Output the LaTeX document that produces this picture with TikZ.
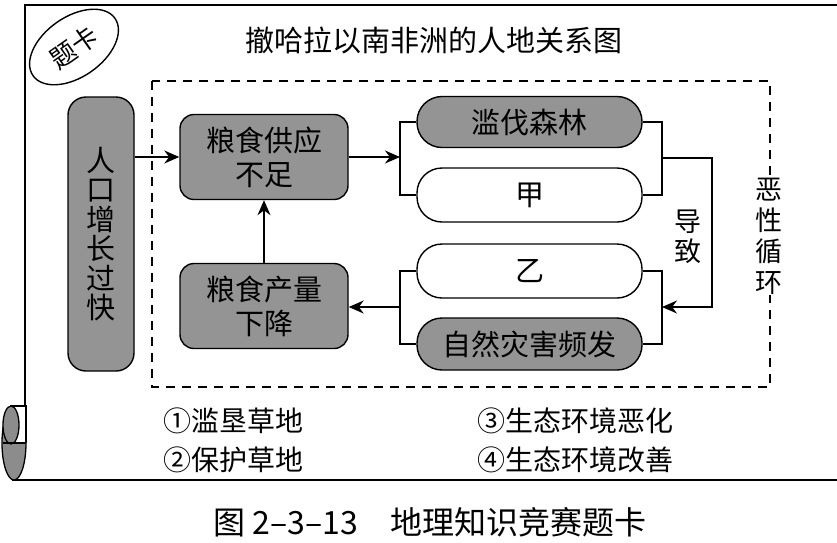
\documentclass[tikz,border=0pt]{standalone}
\usepackage{fontspec}
\setmainfont{Noto Sans CJK SC}
\usetikzlibrary{arrows.meta,shapes.geometric}
\tikzset{
  graybox/.style={draw, line width=1.4pt, fill=black!42, rounded corners=14pt,
    minimum width=168pt, minimum height=85pt, align=center,
    font=\fontsize{29}{34}\selectfont, inner sep=0pt},
  pill/.style={draw, line width=1.4pt, rounded corners=25pt,
    minimum width=225pt, minimum height=52pt, inner sep=0pt,
    font=\fontsize{29}{34}\selectfont},
  graypill/.style={pill, fill=black!42},
  whitepill/.style={pill, fill=white},
  link/.style={line width=1.3pt},
  arr/.style={line width=1.3pt, -{Stealth[length=15pt,width=13pt]}},
  vtext/.style={align=center, inner sep=1pt},
  legend/.style={anchor=west, inner sep=0pt, font=\fontsize{28}{30}\selectfont},
}
\begin{document}
\begin{tikzpicture}[x=1pt,y=-1pt]
\useasboundingbox (0,0) rectangle (837,542);

% card border
\draw[line width=2pt] (837,5) -- (25,5) -- (25,406);
\draw[line width=2pt] (12,480) -- (837,480);
% scroll
\draw[line width=1.3pt, fill=black!45] (14,443) ellipse [x radius=12, y radius=37];
\fill[white] (12,406) rectangle (26,443);
\draw[line width=1.3pt] (10,406) -- (26,406) -- (26,443);
\draw[line width=1.3pt, fill=black!45] (11,425) ellipse [x radius=8, y radius=19];
\draw[line width=1.3pt] (3,443) -- (26,443);

% badge
\draw[line width=1.4pt, rotate around={35:(74,47)}] (74,47) ellipse [x radius=50, y radius=30];
\node[rotate=35, inner sep=0pt, font=\fontsize{26}{28}\selectfont] (badge) at (74,47) {题卡};

% title
\node[font=\fontsize{29}{32}\selectfont] (title) at (434,40) {撤哈拉以南非洲的人地关系图};

% dashed frame
\draw[line width=1.6pt, dash pattern=on 9pt off 7pt] (152,81) rectangle (770,387);

% left column
\node[graybox, minimum width=66pt, minimum height=274pt, rounded corners=18pt,
      font=\fontsize{29}{29.5}\selectfont] (pop) at (101,234)
      {人\\口\\增\\长\\过\\快};
\node[graybox] (supply) at (264,157) {粮食供应\\不足};
\node[graybox] (fall) at (264,306) {粮食产量\\下降};

% right pills
\node[graypill, minimum height=51pt] (lf) at (529.5,122) {滥伐森林};
\node[whitepill, minimum height=54pt] (jia) at (529.5,195) {甲};
\node[whitepill, minimum height=54pt] (yi) at (529.5,271) {乙};
\node[graypill] (zr) at (529.5,344) {自然灾害频发};

% coordinates for brackets
\coordinate (b1) at (400,158);
\coordinate (b2) at (662,158);
\coordinate (b3) at (662,307);
\coordinate (b4) at (400,307);
\coordinate (r1) at (712,158);
\coordinate (r2) at (712,307);

% connectors
\draw[arr] (pop.east |- supply.west) -- (supply.west);
\draw[arr] (fall.north) -- (supply.south);
\draw[arr] (supply.east) -- (supply.east -| b1);
\draw[link] (lf.west) -| (b1) |- (jia.west);
\draw[link] (lf.east) -| (b2) |- (jia.east);
\draw[link] (yi.east) -| (b3) |- (zr.east);
\draw[link] (yi.west) -| (b4) |- (zr.west);
\draw[arr] (b2) -- (r1) -- (r2) -- (b3);
\draw[arr] (b4) -- (fall.east |- b4);

% labels
\node[vtext, font=\fontsize{27}{30}\selectfont] (cause) at (688,237) {导\\致};
\node[vtext, fill=white, font=\fontsize{27}{31}\selectfont] (vicious) at (769,236) {恶\\性\\循\\环};

% legend
\node[legend] (l1) at (163,421) {①滥垦草地};
\node[legend] (l2) at (163,460) {②保护草地};
\node[legend] (l3) at (477,421) {③生态环境恶化};
\node[legend] (l4) at (477,460) {④生态环境改善};

% caption
\node[font=\fontsize{32}{34}\selectfont, inner sep=0pt] (cap) at (430,522) {图 2–3–13\quad 地理知识竞赛题卡};
\end{tikzpicture}
\end{document}
